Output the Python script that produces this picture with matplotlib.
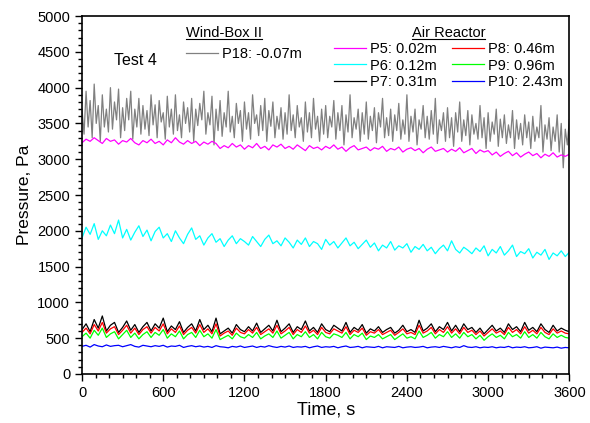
import numpy as np
import matplotlib
matplotlib.use("Agg")
import matplotlib.pyplot as plt
from matplotlib.ticker import MultipleLocator
from matplotlib.lines import Line2D

plt.rcParams["font.family"] = ["Liberation Sans", "DejaVu Sans"]

# time grids: wind box read every 15 s, reactor taps every 30 s
time_wb = np.arange(0, 3601, 15)
time_s = np.arange(0, 3601, 30)

p18 = [3700, 3350, 3950, 3450, 3820, 3300, 4050, 3500, 3750, 3250,
       3900, 3450, 3700, 3380, 4000, 3420, 3800, 3550, 3980, 3300,
       3720, 3400, 3850, 3550, 3950, 3280, 3700, 3450, 3850, 3350,
       3750, 3420, 3680, 3330, 3900, 3480, 3760, 3300, 3820, 3520,
       3650, 3280, 3880, 3450, 3700, 3350, 3900, 3400, 3620, 3300,
       3800, 3500, 3720, 3380, 3850, 3250, 3700, 3470, 3780, 3550,
       3950, 3350, 3650, 3480, 3880, 3200, 3700, 3400, 3820, 3320,
       3650, 3450, 3950, 3380, 3600, 3300, 3780, 3500, 3680, 3250,
       3800, 3420, 3650, 3280, 3900, 3500, 3620, 3330, 3750, 3400,
       3850, 3250, 3680, 3460, 3800, 3300, 3600, 3420, 3720, 3280,
       3650, 3350, 3900, 3400, 3620, 3300, 3750, 3450, 3580, 3250,
       3800, 3380, 3650, 3300, 3850, 3420, 3600, 3250, 3700, 3350,
       3750, 3300, 3600, 3450, 3820, 3280, 3650, 3400, 3750, 3200,
       3620, 3380, 3900, 3300, 3580, 3420, 3700, 3250, 3650, 3350,
       3800, 3280, 3600, 3400, 3720, 3230, 3650, 3450, 3850, 3300,
       3580, 3330, 3700, 3250, 3620, 3400, 3780, 3280, 3550, 3350,
       3900, 3250, 3600, 3380, 3700, 3200, 3550, 3420, 3750, 3300,
       3600, 3280, 3680, 3350, 3850, 3220, 3550, 3400, 3650, 3250,
       3720, 3300, 3580, 3180, 3650, 3380, 3800, 3250, 3550, 3330,
       3680, 3200, 3620, 3350, 3500, 3280, 3750, 3300, 3580, 3150,
       3650, 3250, 3520, 3350, 3700, 3180, 3560, 3300, 3620, 3220,
       3480, 3300, 3680, 3150, 3550, 3280, 3500, 3200, 3620, 3300,
       3520, 3150, 3600, 3250, 3450, 3300, 3750, 3100, 3480, 3280,
       3580, 3120, 3450, 3250, 3620, 3100, 3500, 2880, 3420, 3200,
       3550]

p5 = [3230, 3280, 3250, 3300, 3260, 3220, 3290, 3250, 3270, 3210, 3260,
      3240, 3290, 3230, 3200, 3260, 3230, 3280, 3220, 3250, 3200,
      3270, 3230, 3300, 3240, 3210, 3260, 3220, 3250, 3190, 3240,
      3210, 3250, 3220, 3150, 3190, 3160, 3220, 3170, 3200, 3140,
      3190, 3160, 3220, 3150, 3180, 3130, 3200, 3170, 3210, 3150,
      3180, 3140, 3200, 3160, 3120, 3190, 3150, 3170, 3130, 3180,
      3150, 3200, 3140, 3170, 3110, 3160, 3190, 3130, 3150, 3170,
      3120, 3160, 3140, 3180, 3110, 3150, 3130, 3170, 3100, 3140,
      3160, 3120, 3150, 3090, 3140, 3170, 3110, 3130, 3150, 3100,
      3140, 3110, 3160, 3090, 3120, 3150, 3080, 3130, 3100, 3120,
      3060, 3100, 3040, 3080, 3110, 3050, 3090, 3030, 3070, 3100,
      3050, 3080, 3020, 3070, 3040, 3090, 3030, 3060, 3040, 3070]

p6 = [1900, 2050, 1950, 2100, 1880, 2000, 1930, 2080, 1960, 2150, 1900,
      2020, 1870, 1980, 2070, 1920, 2010, 1860, 1990, 2050, 1900,
      1960, 1850, 2000, 1900, 1820, 1950, 2040, 1880, 1930, 1800,
      1900, 1960, 1840, 1890, 1780, 1870, 1930, 1820, 1890, 1850,
      1800, 1920, 1850, 1780, 1880, 1940, 1820, 1860, 1790, 1900,
      1840, 1760, 1870, 1810, 1900, 1780, 1850, 1820, 1740, 1880,
      1800, 1850, 1760, 1830, 1900, 1790, 1840, 1750, 1810, 1870,
      1770, 1830, 1720, 1800, 1760, 1850, 1730, 1790, 1760, 1820,
      1700, 1780, 1740, 1810, 1720, 1770, 1680, 1750, 1800, 1720,
      1860, 1740, 1690, 1770, 1730, 1680, 1760, 1710, 1790, 1650,
      1740, 1690, 1780, 1660, 1720, 1800, 1640, 1710, 1680, 1750,
      1620, 1700, 1660, 1740, 1600, 1690, 1650, 1720, 1640, 1700]

p7 = [620, 700, 590, 760, 640, 810, 600, 680, 720, 580, 650,
      740, 610, 690, 580, 660, 720, 600, 700, 640, 780,
      590, 670, 620, 730, 580, 650, 700, 600, 760, 620,
      680, 590, 780, 560, 600, 640, 570, 690, 620, 590,
      660, 600, 710, 580, 630, 680, 600, 750, 590, 640,
      700, 580, 660, 620, 740, 600, 650, 580, 700, 620,
      590, 680, 640, 600, 720, 580, 650, 610, 690, 570,
      630, 600, 660, 580, 620, 650, 570, 610, 680, 590,
      620, 580, 750, 600, 640, 700, 590, 660, 620, 720,
      600, 680, 590, 700, 620, 650, 580, 640, 560, 620,
      680, 600, 640, 580, 700, 620, 660, 590, 720, 610,
      650, 590, 700, 620, 580, 680, 600, 640, 610, 590]

p8 = [580, 640, 560, 690, 600, 720, 570, 630, 660, 550, 610,
      680, 570, 640, 550, 620, 660, 570, 650, 600, 700,
      560, 630, 580, 670, 550, 610, 650, 570, 690, 580,
      630, 560, 700, 530, 570, 600, 540, 640, 580, 560,
      620, 570, 650, 550, 590, 630, 570, 680, 560, 600,
      650, 550, 620, 580, 670, 570, 610, 550, 650, 580,
      560, 630, 600, 570, 660, 550, 610, 580, 640, 540,
      590, 570, 620, 550, 580, 610, 540, 580, 630, 560,
      580, 550, 680, 570, 600, 650, 560, 620, 580, 660,
      570, 630, 560, 650, 580, 610, 550, 600, 530, 580,
      630, 570, 600, 550, 650, 580, 620, 560, 660, 570,
      610, 560, 650, 580, 550, 630, 570, 600, 570, 560]

p9 = [520, 570, 500, 610, 540, 640, 510, 560, 590, 490, 550,
      610, 510, 570, 490, 550, 590, 510, 580, 540, 620,
      500, 560, 520, 600, 490, 550, 580, 510, 610, 520,
      560, 500, 620, 480, 510, 540, 490, 570, 520, 500,
      550, 510, 580, 490, 530, 560, 510, 600, 500, 540,
      580, 490, 550, 520, 590, 510, 550, 490, 580, 520,
      500, 560, 540, 510, 580, 490, 550, 520, 570, 480,
      530, 510, 550, 490, 520, 550, 480, 520, 560, 500,
      520, 490, 600, 510, 540, 580, 500, 550, 520, 590,
      510, 560, 500, 580, 520, 550, 490, 540, 470, 520,
      560, 510, 540, 490, 580, 520, 550, 500, 590, 510,
      550, 500, 580, 520, 490, 560, 510, 540, 510, 500]

p10 = [385, 400, 375, 410, 390, 380, 405, 385, 395, 400, 380,
       395, 410, 385, 375, 400, 390, 380, 395, 385, 400,
       375, 390, 385, 400, 370, 385, 395, 380, 390, 375,
       385, 370, 395, 380, 375, 365, 385, 375, 390, 370,
       380, 390, 370, 385, 375, 395, 380, 370, 385, 375,
       390, 370, 380, 375, 385, 365, 380, 390, 370, 380,
       375, 385, 365, 380, 390, 370, 375, 385, 365, 380,
       375, 370, 385, 365, 380, 375, 370, 385, 365, 375,
       380, 370, 375, 385, 365, 375, 380, 370, 385, 375,
       365, 380, 370, 395, 375, 370, 380, 365, 375, 370,
       380, 365, 375, 370, 385, 365, 375, 370, 380, 365,
       370, 380, 360, 375, 370, 365, 375, 360, 370, 365]

labels = ["P18: -0.07m", "P5: 0.02m", "P6: 0.12m", "P7: 0.31m",
          "P8: 0.46m", "P9: 0.96m", "P10: 2.43m"]

fig = plt.figure(figsize=(5.9, 4.23), dpi=100)
ax = fig.add_axes([0.139, 0.116, 0.826, 0.846])

lw = 0.9
h18, = ax.plot(time_wb, p18, color="#808080", lw=lw)
h5, = ax.plot(time_s, p5, color="#ff00ff", lw=lw)
h6, = ax.plot(time_s, p6, color="#00ffff", lw=lw)
h7, = ax.plot(time_s, p7, color="black", lw=lw)
h8, = ax.plot(time_s, p8, color="#ff0000", lw=lw)
h9, = ax.plot(time_s, p9, color="#00ff00", lw=lw)
h10, = ax.plot(time_s, p10, color="#0000ff", lw=lw)

ax.set_xlim(0, 3600)
ax.set_ylim(0, 5000)
ax.xaxis.set_major_locator(MultipleLocator(600))
ax.xaxis.set_minor_locator(MultipleLocator(100))
ax.yaxis.set_major_locator(MultipleLocator(500))
ax.yaxis.set_minor_locator(MultipleLocator(100))
ax.tick_params(which="both", direction="out", top=False, right=False,
               labelsize=10.5, width=1)
ax.tick_params(which="major", length=5)
ax.tick_params(which="minor", length=3)
for s in ax.spines.values():
    s.set_linewidth(1.2)

ax.set_xlabel("Time, s", fontsize=13, labelpad=1)
ax.set_ylabel("Pressure, Pa", fontsize=12.5, labelpad=4)

ax.text(0.065, 0.862, "Test 4", transform=ax.transAxes, fontsize=11.5)

# legends: wind box and air reactor groups
leg1 = ax.legend([h18], [labels[0]], loc="upper left",
                 bbox_to_anchor=(0.201, 0.988), frameon=False, fontsize=10.5,
                 handlelength=2.2, handletextpad=0.3, borderaxespad=0,
                 title="Wind-Box II", title_fontsize=10.5, alignment="left")
ax.add_artist(leg1)
leg2 = ax.legend([h5, h6, h7, h8, h9, h10],
                 [labels[1], labels[2], labels[3], labels[4], labels[5], labels[6]],
                 ncol=2, loc="upper left", bbox_to_anchor=(0.505, 0.988),
                 frameon=False, fontsize=10.5, handlelength=2.2,
                 handletextpad=0.3, columnspacing=1.0, labelspacing=0.15,
                 borderaxespad=0, title="Air Reactor", title_fontsize=10.5)

# underline the group titles
fig.canvas.draw()
r = fig.canvas.get_renderer()
inv = fig.transFigure.inverted()
for lg in (leg1, leg2):
    bb = lg.get_title().get_window_extent(r)
    (x0, y0), (x1, _) = inv.transform([[bb.x0, bb.y0], [bb.x1, bb.y1]])
    fig.add_artist(Line2D([x0, x1], [y0 + 0.002, y0 + 0.002],
                          transform=fig.transFigure, color="black", lw=0.8))

fig.savefig("out.png", dpi=100)
